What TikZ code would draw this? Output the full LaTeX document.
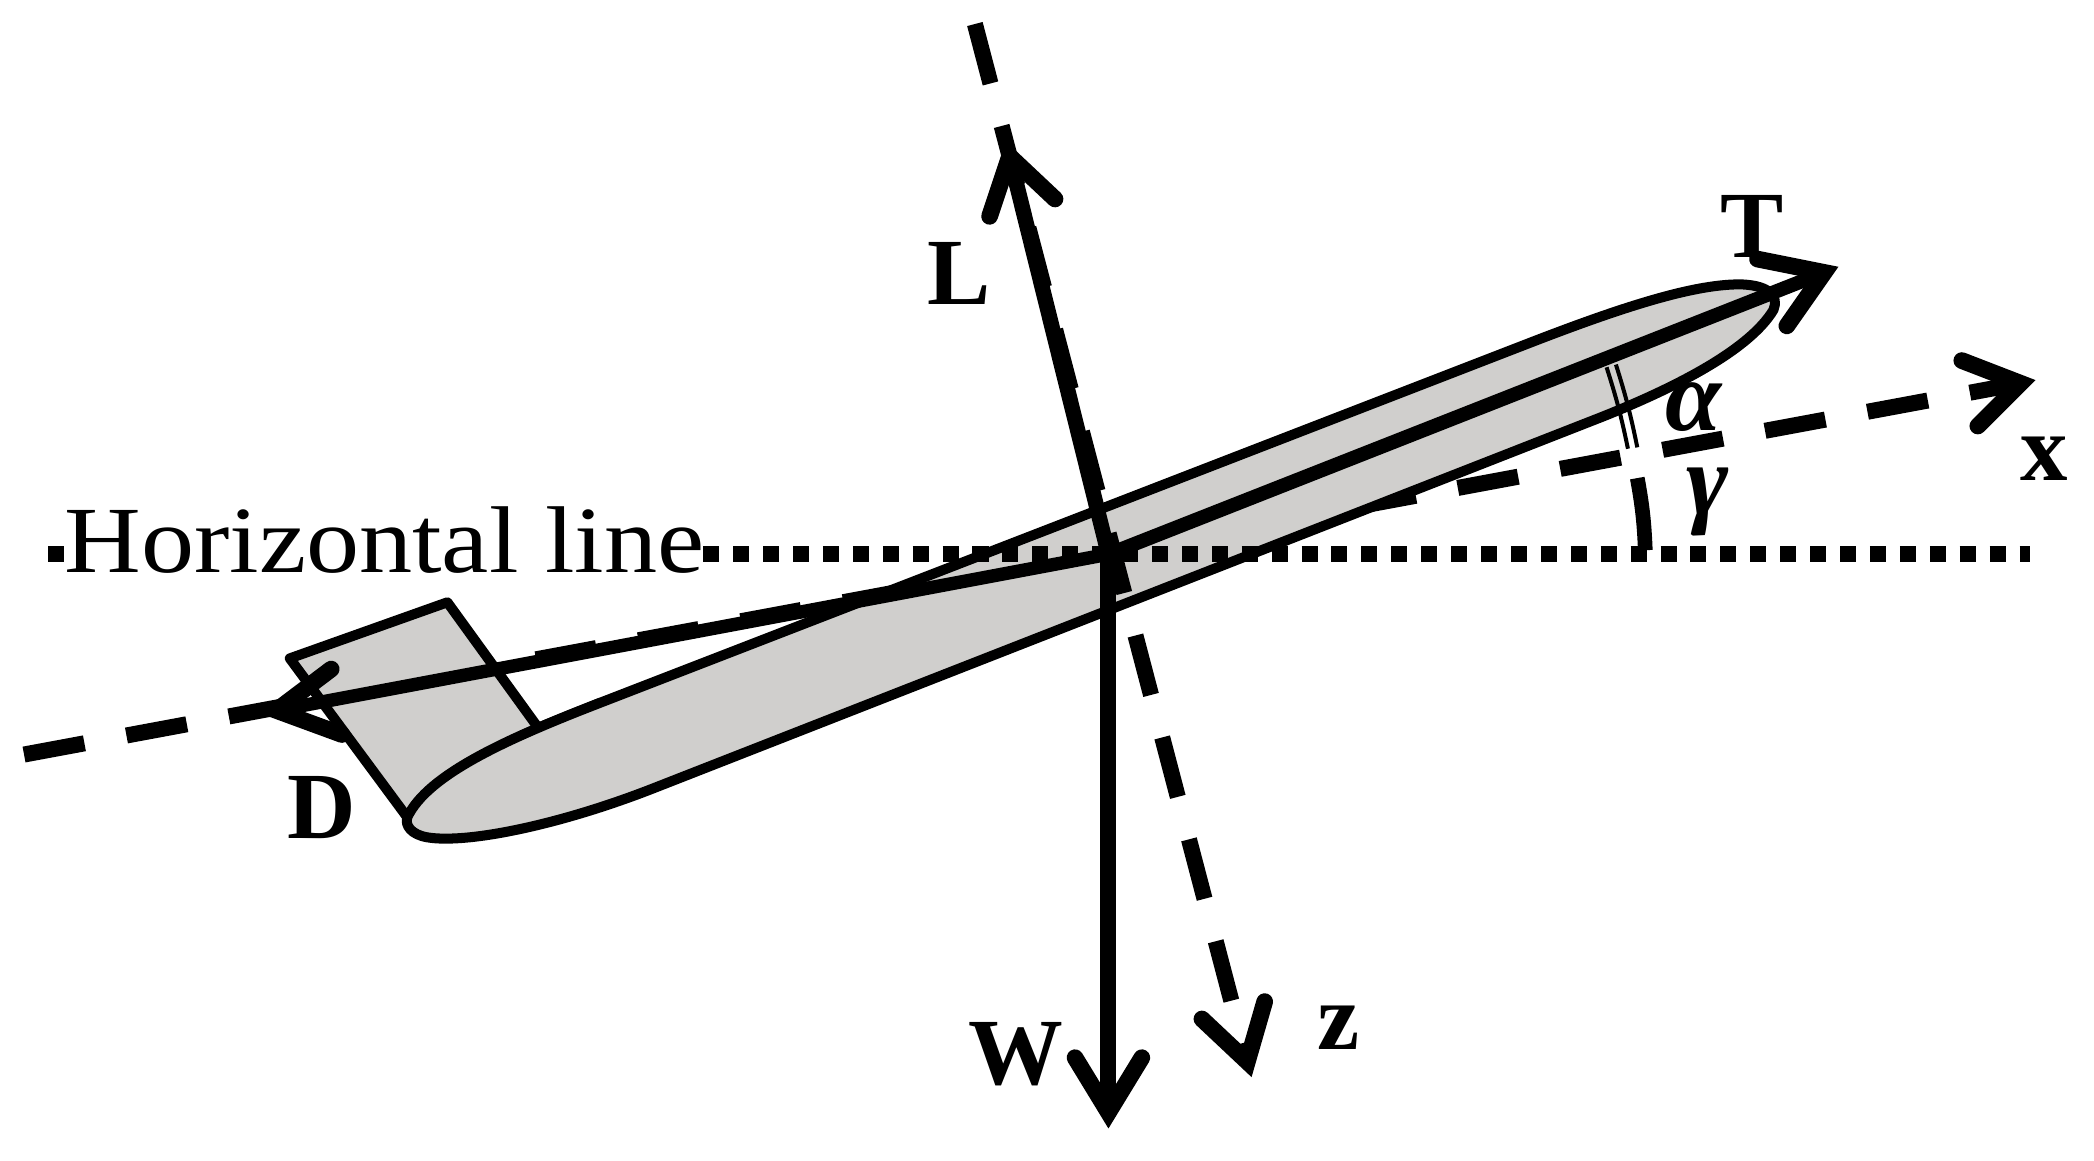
\documentclass[tikz,border=0pt]{standalone}
\usepackage{fontspec}
\setmainfont{Liberation Serif}
\definecolor{bodygray}{HTML}{D0CFCD}
\tikzset{
  axisline/.style={line width=12pt,dash pattern=on 46pt off 32pt},
  dotline/.style={line width=12pt,dash pattern=on 12pt off 10.4pt},
  outline/.style={draw=black,fill=bodygray,line width=7.5pt,line join=round},
  force/.style={line width=12pt},
  headtip/.style={line width=12.5pt,line cap=round,line join=miter,miter limit=20},
  biglabel/.style={inner sep=0pt,anchor=base,font=\fontsize{71}{71}\selectfont\bfseries},
  greeklabel/.style={inner sep=0pt,anchor=base,font=\fontsize{76}{76}\selectfont\bfseries\itshape},
}
\begin{document}
\begin{tikzpicture}[x=1pt,y=-1pt]
\useasboundingbox (0,0) rectangle (1568,869);
% reference points
\coordinate (c) at (830,415);
\coordinate (xs) at (18,565);
\coordinate (xv) at (1513,287);
\coordinate (x1) at (1469,270);
\coordinate (x2) at (1481,319);
\coordinate (zs) at (730,18);
\coordinate (zv) at (934,795);
\coordinate (z1) at (900,763);
\coordinate (z2) at (947,750);
\coordinate (tv) at (1366,204);
\coordinate (t1) at (1316,194);
\coordinate (t2) at (1338,244);
\coordinate (dv) at (207,532);
\coordinate (d1) at (248,501);
\coordinate (d2) at (256,550);
\coordinate (lv) at (756,117);
\coordinate (l1) at (741,162);
\coordinate (l2) at (790,149);
\coordinate (wv) at (830,833);
\coordinate (w1) at (805,792);
\coordinate (w2) at (855,792);
\coordinate (dotA) at (36,415);
\coordinate (dotB) at (48,415);
\coordinate (dotC) at (526.6,415);
\coordinate (dotD) at (1520,415);
% x axis under the aircraft
\draw[axisline] (xs) -- (xv);
% fin
\draw[outline] (305,612) -- (217,493) -- (335,451) -- (403,545) -- (450,526) -- (330,600) -- cycle;
% fuselage
\draw[outline] (305,612) .. controls (320,580) and (380,553) .. (450,526) -- (1150,255)
  .. controls (1215,230) and (1270,212) .. (1305,213)
  .. controls (1325,214) and (1332,222) .. (1328,232)
  .. controls (1310,262) and (1255,290) .. (1200,312) -- (490,590)
  .. controls (420,617.5) and (350,632) .. (320,627)
  .. controls (308,625) and (303,618) .. (305,612) -- cycle;
% z axis and horizontal line
\draw[axisline,dash pattern=on 46pt off 32.9pt] (zs) -- (zv);
\draw[dotline] (dotA) -- (dotB);
\draw[dotline] (dotC) -- (dotD);
% angle arcs
\draw[line width=3pt] (1203,275) to[bend left=3] (1219,336);
\draw[line width=3pt] (1210,273) to[bend left=3] (1226,335);
\draw[line width=11pt] (1226,358) to[bend left=4] (1232,412);
% forces
\draw[force,line width=10.5pt] (c) -- (tv);
\draw[force,line width=10pt] (c) -- (dv);
\draw[force,line width=11.5pt] (c) -- (lv);
\draw[force] (c) -- (wv);
% arrow heads
\draw[headtip] (x1) -- (xv) -- (x2);
\draw[headtip] (z1) -- (zv) -- (z2);
\draw[headtip] (t1) -- (tv) -- (t2);
\draw[headtip] (d1) -- (dv) -- (d2);
\draw[headtip] (l1) -- (lv) -- (l2);
\draw[headtip] (w1) -- (wv) -- (w2);
% labels
\node[inner sep=0pt,anchor=base west,xscale=1.12,font=\fontsize{71}{71}\selectfont] (hl) at (48,429) {Horizontal line};
\node[biglabel] (tl) at (1312,193) {T};
\node[biglabel] (ll) at (718,228) {L};
\node[biglabel] (dl) at (241,628) {D};
\node[biglabel] (wl) at (761,812) {W};
\node[biglabel] (zl) at (1002,786) {z};
\node[biglabel] (xl) at (1531,360) {x};
\node[greeklabel] (al) at (1268,322) {α};
\node[greeklabel] (gl) at (1279,385) {γ};
\end{tikzpicture}
\end{document}
